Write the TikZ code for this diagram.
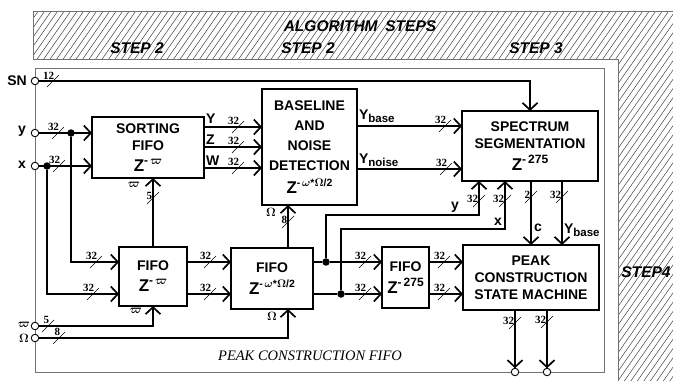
\documentclass[tikz,border=0pt]{standalone}
\usepackage{fontspec}
\setmainfont{Liberation Sans}
\newfontfamily\numfont{Liberation Serif}
\usetikzlibrary{arrows.meta}

\newcommand\zz{{\fontsize{17}{17}\selectfont Z}}
\newcommand\zsup[1]{\raisebox{0.5em}{\fontsize{12}{12}\selectfont #1}}
\newcommand\ysub[1]{Y\raisebox{-0.25em}{\fontsize{11.5}{11.5}\selectfont #1}}
\newcommand\busmark[3]{%
  \draw[slash] (#1-6,#2+6) -- (#1+6,#2-6);
  \node[num, anchor=south east] at (#1+1,#2-2) {#3};}
\newcommand\busmarkv[3]{%
  \draw[slash] (#1-6,#2+6) -- (#1+6,#2-6);
  \node[num, anchor=east] at (#1-1,#2-2) {#3};}

\begin{document}
\begin{tikzpicture}[x=1pt,y=-1pt,
  every node/.style={inner sep=0pt, outer sep=0pt},
  blk/.style={draw, line width=1.7pt, fill=white, align=center, font=\fontsize{14}{17}\selectfont\bfseries},
  wire/.style={line width=1.7pt},
  arr/.style={wire, -{Straight Barb[length=7pt,width=15pt]}},
  dot/.style={circle, fill=black, minimum size=7.5pt},
  term/.style={circle, draw, fill=white, line width=0.9pt, minimum size=7.5pt},
  lbl/.style={font=\fontsize{14}{14}\selectfont\bfseries},
  glbl/.style={font=\fontsize{13}{13}\selectfont\boldmath},
  num/.style={font=\numfont\fontsize{11}{11}\selectfont\bfseries},
  slash/.style={line width=0.55pt},
  steplbl/.style={font=\fontsize{15.5}{15.5}\selectfont\bfseries\itshape},
  hatch/.style={line width=0.5pt, black!75},
  frame/.style={line width=0.8pt, black!55}
]
\useasboundingbox (0,0) rectangle (673,381);

% hatched L band
\begin{scope}
  \clip (33,11) -- (673,11) -- (673,381) -- (618,381) -- (618,59) -- (33,59) -- cycle;
  \foreach \k in {-60,...,110} \draw[hatch] (\k*6.5,400) -- ++(280,-400);
\end{scope}
\draw[frame] (673,11) -- (33,11) -- (33,59) -- (618,59) -- (618,381);

\node[steplbl] (alg) at (360,26) {ALGORITHM\hspace{0.5em}STEPS};
\node[steplbl] (s2a) at (137,48) {STEP 2};
\node[steplbl] (s2b) at (308,48) {STEP 2};
\node[steplbl] (s3) at (536,48) {STEP 3};
\node[steplbl] (s4) at (646,272) {STEP4};

% inner frame
\draw[frame] (35,68) rectangle (604,372);
\node[font=\numfont\itshape\fontsize{14.5}{15}\selectfont] (pcf) at (310,356) {PEAK\ CONSTRUCTION\ FIFO};

% blocks
\node[blk, minimum width=112pt, minimum height=61pt] (sort) at (148,147.5)
  {SORTING\\FIFO\\[4pt]\zz\zsup{-\,{\boldmath$\varpi$}}};
\node[blk, minimum width=95pt, minimum height=116pt, font=\fontsize{14}{20}\selectfont\bfseries] (base) at (309.5,147)
  {BASELINE\\AND\\NOISE\\DETECTION\\[3pt]\zz\zsup{\fontsize{10.5}{10.5}\selectfont-\,{\boldmath$\omega$}*{\boldmath$\Omega$}/2}};
\node[blk, minimum width=136pt, minimum height=70pt] (spec) at (530,146)
  {SPECTRUM\\SEGMENTATION\\[5pt]\zz\zsup{-\,275}};
\node[blk, minimum width=68pt, minimum height=59pt] (fifo1) at (153,276.5)
  {FIFO\\[4pt]\zz\zsup{-\,{\boldmath$\varpi$}}};
\node[blk, minimum width=82pt, minimum height=61pt] (fifo2) at (272,278.5)
  {FIFO\\[5pt]\zz\zsup{\fontsize{10.5}{10.5}\selectfont-\,{\boldmath$\omega$}*{\boldmath$\Omega$}/2}};
\node[blk, minimum width=47pt, minimum height=61pt] (fifo3) at (405.5,277.5)
  {FIFO\\[5pt]\zz\zsup{-\,275}};
\node[blk, minimum width=136pt, minimum height=65pt] (peak) at (531,277.5)
  {PEAK\\CONSTRUCTION\\STATE MACHINE};

% terminals
\node[term] (inSN) at (35,81) {};
\node[term] (iny) at (35,133) {};
\node[term] (inx) at (35,166) {};
\node[term] (inw) at (35,326) {};
\node[term] (inO) at (35,338) {};
\node[term] (out1) at (515,372) {};
\node[term] (out2) at (547,372) {};
\node[lbl] (tSN) at (17,81) {SN};
\node[lbl] (ty) at (22,131) {y};
\node[lbl] (tx) at (22,165) {x};
\node[glbl] (tw) at (24,325) {$\varpi$};
\node[glbl] (tO) at (24,338) {$\Omega$};

% dots
\node[dot] (dy) at (71,133) {};
\node[dot] (dx) at (47,166) {};
\node[dot] (d1) at (326,262) {};
\node[dot] (d2) at (341,294) {};

% helper coordinates
\coordinate (r1) at (0,262);
\coordinate (r2) at (0,294);
\coordinate (sy) at (0,127);
\coordinate (sz) at (0,147);
\coordinate (sw) at (0,168);
\coordinate (yb) at (0,126);
\coordinate (yn) at (0,169);
\coordinate (om) at (288,338);
\coordinate (cy) at (479,215);
\coordinate (cx) at (505,229);
\coordinate (c1) at (531,0);
\coordinate (c2) at (562,0);

% wires
\draw[arr] (inSN) -| (spec.north);
\draw[arr] (iny) -- (iny -| sort.west);
\draw[arr] (inx) -- (inx -| sort.west);
\draw[arr] (dy) |- (r1 -| fifo1.west);
\draw[arr] (dx) |- (r2 -| fifo1.west);
\draw[arr] (r1 -| fifo1.east) -- (r1 -| fifo2.west);
\draw[arr] (r2 -| fifo1.east) -- (r2 -| fifo2.west);
\draw[wire] (r1 -| fifo2.east) -- (d1);
\draw[wire] (r2 -| fifo2.east) -- (d2);
\draw[arr] (d1) -- (r1 -| fifo3.west);
\draw[arr] (d2) -- (r2 -| fifo3.west);
\draw[arr] (r1 -| fifo3.east) -- (r1 -| peak.west);
\draw[arr] (r2 -| fifo3.east) -- (r2 -| peak.west);
\draw[arr] (d1) |- (cy) -- (cy |- spec.south);
\draw[arr] (d2) |- (cx) -- (cx |- spec.south);
\draw[arr] (c1 |- spec.south) -- (c1 |- peak.north);
\draw[arr] (c2 |- spec.south) -- (c2 |- peak.north);
\draw[arr] (out1 |- peak.south) -- (out1);
\draw[arr] (out2 |- peak.south) -- (out2);
\draw[arr] (fifo1.north) -- (fifo1.north |- sort.south);
\draw[arr] (om |- fifo2.north) -- (om |- base.south);
\draw[arr] (inw) -| (fifo1.south);
\draw[arr] (inO) -| (om |- fifo2.south);
\draw[arr] (sy -| sort.east) -- (sy -| base.west);
\draw[arr] (sz -| sort.east) -- (sz -| base.west);
\draw[arr] (sw -| sort.east) -- (sw -| base.west);
\draw[arr] (yb -| base.east) -- (yb -| spec.west);
\draw[arr] (yn -| base.east) -- (yn -| spec.west);

% wire labels
\node[lbl, anchor=west] (lY) at (206,119) {Y};
\node[lbl, anchor=west] (lZ) at (206,140) {Z};
\node[lbl, anchor=west] (lW) at (206,161) {W};
\node[lbl, anchor=west] (lYb) at (359,116) {\ysub{base}};
\node[lbl, anchor=west] (lYn) at (359,160) {\ysub{noise}};
\node[lbl] (ly) at (455,207) {y};
\node[lbl] (lx) at (498,222) {x};
\node[lbl] (lc) at (538,228) {c};
\node[lbl, anchor=west] (lYb2) at (564,230) {\ysub{base}};
\node[glbl] (gw1) at (134,185) {$\varpi$};
\node[glbl] (gO1) at (271,212) {$\Omega$};
\node[glbl] (gw2) at (136,311) {$\varpi$};
\node[glbl] (gO2) at (272,316) {$\Omega$};

% bus width marks
\busmark{53}{81}{12}
\busmark{58}{133}{32}
\busmark{59}{166}{32}
\busmark{96}{262}{32}
\busmark{93}{294}{32}
\busmark{210}{262}{32}
\busmark{210}{294}{32}
\busmark{365}{262}{32}
\busmark{365}{294}{32}
\busmark{444}{262}{32}
\busmark{444}{294}{32}
\busmark{238}{127}{32}
\busmark{238}{147}{32}
\busmark{238}{168}{32}
\busmark{445}{126}{32}
\busmark{446}{169}{32}
\busmark{48}{326}{5}
\busmark{59}{338}{8}
\busmarkv{153}{198}{5}
\busmarkv{288}{222}{8}
\busmarkv{479}{201}{32}
\busmarkv{505}{201}{32}
\busmarkv{531}{197}{2}
\busmarkv{562}{197}{32}
\busmarkv{515}{323}{32}
\busmarkv{547}{322}{32}
\end{tikzpicture}
\end{document}
